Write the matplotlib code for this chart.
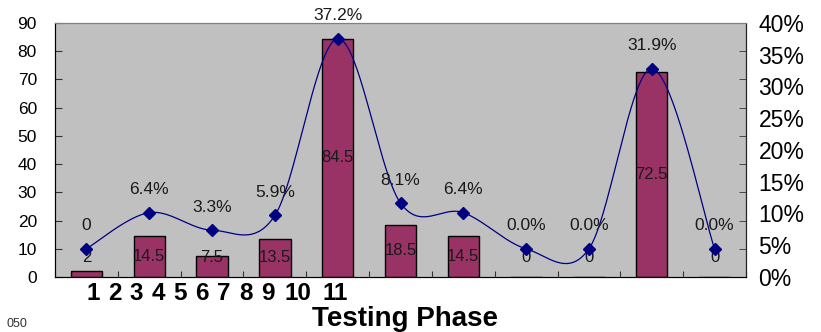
import numpy as np
import matplotlib.pyplot as plt
from matplotlib.ticker import FuncFormatter

plt.rcParams['font.family'] = ['Liberation Sans', 'DejaVu Sans']

# Data per testing phase
phases = ['1', '2', '3', '4', '5', '6', '7', '8', '9', '10', '11']
counts = [2, 14.5, 7.5, 13.5, 84.5, 18.5, 14.5, 0, 0, 72.5, 0]
share_pct = [0, 6.4, 3.3, 5.9, 37.2, 8.1, 6.4, 0.0, 0.0, 31.9, 0.0]
share_labels = ['0', '6.4%', '3.3%', '5.9%', '37.2%', '8.1%', '6.4%',
                '0.0%', '0.0%', '31.9%', '0.0%']

BAR_COLOR = '#993366'
LINE_COLOR = '#000080'
PLOT_BG = '#c0c0c0'


def smooth_curve(xs, ys, n=40):
    '''Bezier smoothing through the points (same idea as a spreadsheet "smoothed line").'''
    pts = np.column_stack([xs, ys]).astype(float)
    padded = np.vstack([pts[0], pts, pts[-1]])
    t = np.linspace(0, 1, n)[:, None]
    segs = []
    for i in range(len(pts) - 1):
        p0, p1, p2, p3 = padded[i], padded[i + 1], padded[i + 2], padded[i + 3]
        c1 = p1 + (p2 - p0) / 6
        c2 = p2 - (p3 - p1) / 6
        segs.append((1 - t)**3 * p1 + 3 * (1 - t)**2 * t * c1
                    + 3 * (1 - t) * t**2 * c2 + t**3 * p2)
    return np.vstack(segs)


fig = plt.figure(figsize=(8.21, 3.32), dpi=100)
ax = fig.add_axes([55 / 821, 1 - 277 / 332, 691 / 821, 254 / 332])
ax.set_facecolor(PLOT_BG)

x = np.arange(len(phases))
ax.bar(x, counts, width=0.5, color=BAR_COLOR, edgecolor='black', linewidth=1, zorder=2)
ax.set_xlim(-0.5, len(phases) - 0.5)
ax.set_ylim(0, 90)
ax.set_yticks(np.arange(0, 91, 10))
ax.tick_params(axis='y', direction='in', length=5, labelsize=12.5, pad=13, color='#333333')

# category ticks between the bars, no labels on the axis itself
ax.set_xticks(np.arange(len(phases) + 1) - 0.5)
ax.set_xticklabels([])
ax.tick_params(axis='x', direction='in', length=4, color='#333333')

# bar value labels, centred in the bar (kept clear of the axis for short bars)
for xi, v in zip(x, counts):
    ax.text(xi, max(v / 2, 6.8), f'{v:g}', ha='center', va='center',
            fontsize=12, color='#1a1a1a', zorder=5)

# right hand percentage axis
ax2 = ax.twinx()
ax2.set_ylim(0, 40)
ax2.set_yticks(np.arange(0, 41, 5))
ax2.yaxis.set_major_formatter(FuncFormatter(lambda v, p: f'{v:.0f}%'))
ax2.set_yticks(np.linspace(0, 40, 10), minor=True)
ax2.tick_params(axis='y', which='major', length=0, labelsize=16.5, pad=9)
ax2.tick_params(axis='y', which='minor', direction='in', length=5, color='#333333')

# share line on its own scale
ax3 = ax.twinx()
ax3.set_ylim(-5, 40)
ax3.axis('off')
curve = smooth_curve(x, share_pct)
ax3.plot(curve[:, 0], curve[:, 1], color=LINE_COLOR, linewidth=0.9, zorder=3)
ax3.plot(x, share_pct, linestyle='none', marker='D', markersize=6.5,
         color=LINE_COLOR, zorder=4)
for xi, v, lab in zip(x, share_pct, share_labels):
    ax3.annotate(lab, (xi, v), xytext=(0, 17.5), textcoords='offset points',
                 ha='center', va='center_baseline', fontsize=12.5, color='#1a1a1a',
                 annotation_clip=False)

for a in (ax, ax2, ax3):
    a.spines['top'].set_color('#808080')
ax.spines['left'].set_color('#222222')
ax.spines['bottom'].set_color('#222222')
ax2.spines['right'].set_color('#222222')

# phase numbers under the axis
label_px = list(93 + 21.8 * np.arange(9)) + [298, 335]
for px, lab in zip(label_px, phases):
    fig.text(px / 821, 1 - 293 / 332, lab, ha='center', va='center',
             fontsize=17.5, fontweight='bold')

fig.text(405 / 821, 1 - 319 / 332, 'Testing Phase', ha='center', va='center',
         fontsize=20, fontweight='bold')
fig.text(6 / 821, 2 / 332, '050', ha='left', va='bottom', fontsize=9, color='#333333')

fig.savefig('out.png', dpi=100)
